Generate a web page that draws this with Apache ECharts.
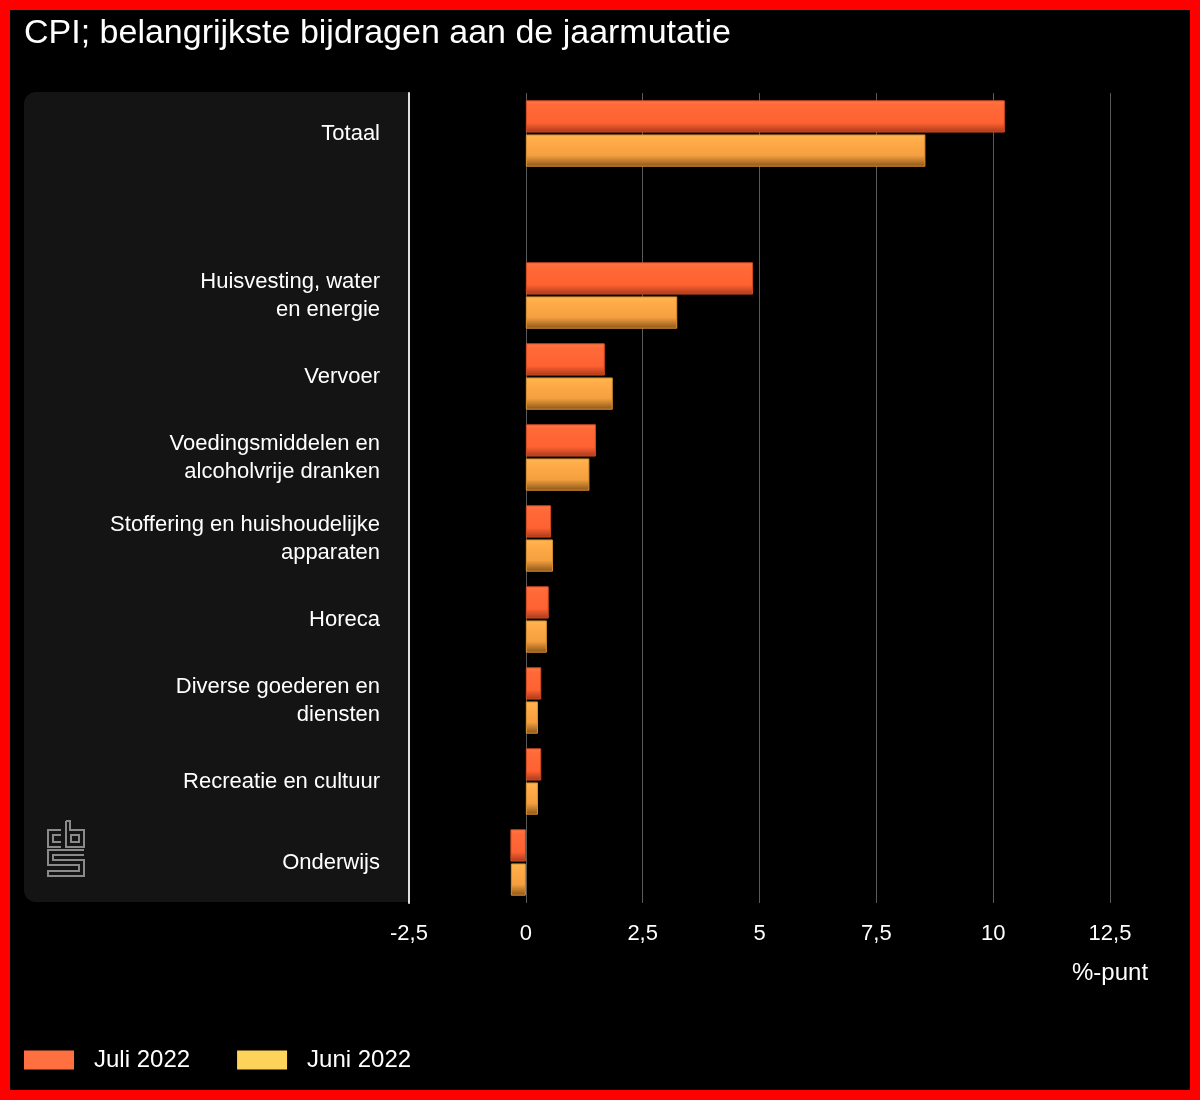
<!DOCTYPE html>
<html>
<head>
<meta charset="utf-8">
<script src="https://cdn.jsdelivr.net/npm/echarts@6/dist/echarts.min.js"></script>
<style>
html,body{margin:0;padding:0;background:#000;}
#chart{position:absolute;left:0;top:0;width:1200px;height:1100px;}
</style>
</head>
<body>
<div id="chart"></div>
<script>
const categories = [
  'Totaal',
  '',
  'Huisvesting, water\nen energie',
  'Vervoer',
  'Voedingsmiddelen en\nalcoholvrije dranken',
  'Stoffering en huishoudelijke\napparaten',
  'Horeca',
  'Diverse goederen en\ndiensten',
  'Recreatie en cultuur',
  'Onderwijs'
];
const seriesNames = ['Juli 2022', 'Juni 2022'];
const juli = [10.25, null, 4.86, 1.69, 1.5, 0.54, 0.49, 0.33, 0.33, -0.33];
const juni = [8.55, null, 3.24, 1.86, 1.36, 0.58, 0.45, 0.26, 0.26, -0.32];
const xTicks = { min: -2.5, max: 12.5, interval: 2.5 };
const axisUnit = '%-punt';
const titleText = 'CPI; belangrijkste bijdragen aan de jaarmutatie';

const font = '"Liberation Sans", Arial, sans-serif';
const chart = echarts.init(document.getElementById('chart'), null, {renderer:'canvas'});

function grad(stops){
  return new echarts.graphic.LinearGradient(0,0,0,1, stops.map((c)=>({offset:c[0],color:c[1]})));
}

const logoStroke = {stroke:'#8a8a8a', lineWidth:2, fill:null};

chart.setOption({
  backgroundColor: '#000',
  animation: false,
  title: {
    text: titleText, left: 24, top: 17, padding: 0,
    textStyle: {color:'#fff', fontFamily: font, fontSize: 34, fontWeight:'normal'}
  },
  graphic: [
    {type:'rect', z:-10, shape:{x:24,y:92,width:385,height:810,r:[12,0,0,12]}, style:{fill:'#141414'}},
    {type:'rect', z:100, silent:true, shape:{x:5,y:5,width:1190,height:1090}, style:{fill:null, stroke:'#ff0000', lineWidth:10}},
    {type:'text', left: 1072, top: 961, style:{text: axisUnit, fill:'#fff', font:'24px ' + font}},
    // logo (decorative)
    {type:'polyline', shape:{points:[[61,830],[48,830],[48,847],[61,847]]}, style:logoStroke},
    {type:'polyline', shape:{points:[[61,835],[53,835],[53,842],[61,842]]}, style:logoStroke},
    {type:'polyline', shape:{points:[[66,821],[66,847],[84,847],[84,830],[70,830],[70,821],[66,821]]}, style:logoStroke},
    {type:'rect', shape:{x:71,y:835,width:8,height:7}, style:logoStroke},
    {type:'polyline', shape:{points:[[84,850],[48,850],[48,865],[79,865],[79,871],[48,871],[48,876],[84,876],[84,860],[53,860],[53,855],[84,855]]}, style:logoStroke}
  ],
  legend: {
    left: 24, top: 1048, padding: 0, itemWidth: 50, itemHeight: 19, itemGap: 47,
    icon: 'rect',
    formatter: name => '{g|}' + name,
    textStyle: {color:'#fff', fontFamily: font, fontSize: 24,
      rich: {g: {width: 15}}},
    data: [
      {name: seriesNames[0], itemStyle:{color:'#ff7040', borderWidth:0}},
      {name: seriesNames[1], itemStyle:{color:'#ffd35a', borderWidth:0}}
    ]
  },
  grid: {left: 409, right: 90, top: 93, bottom: 197},
  xAxis: {
    type:'value', min: xTicks.min, max: xTicks.max, interval: xTicks.interval,
    axisLine:{show:false}, axisTick:{show:false},
    splitLine:{lineStyle:{color:'#5a5a5a', width:1}},
    axisLabel:{color:'#fff', fontFamily: font, fontSize: 22, margin: 20,
      formatter: v => String(v).replace('.', ',')}
  },
  yAxis: {
    type:'category', data: categories, inverse: true,
    axisLine:{show:true, onZero:false, lineStyle:{color:'#e0e0e0', width:2}},
    axisTick:{show:false},
    axisLabel:{color:'#fff', fontFamily: font, fontSize: 22, lineHeight: 28, margin: 29, align:'right'}
  },
  series: [
    {
      name: seriesNames[0], type:'bar', data: juli, barGap: '6%', barCategoryGap: '18%',
      itemStyle:{
        color: grad([[0,'#ff7a48'],[0.15,'#ff6a38'],[0.7,'#ff6232'],[1,'#a8381a']]),
        borderColor:'#d04a20', borderWidth:1
      }
    },
    {
      name: seriesNames[1], type:'bar', data: juni,
      itemStyle:{
        color: grad([[0,'#ffb850'],[0.2,'#ffab48'],[0.65,'#f4a040'],[1,'#8a5418']]),
        borderColor:'#d89030', borderWidth:1
      }
    }
  ]
});
</script>
</body>
</html>
